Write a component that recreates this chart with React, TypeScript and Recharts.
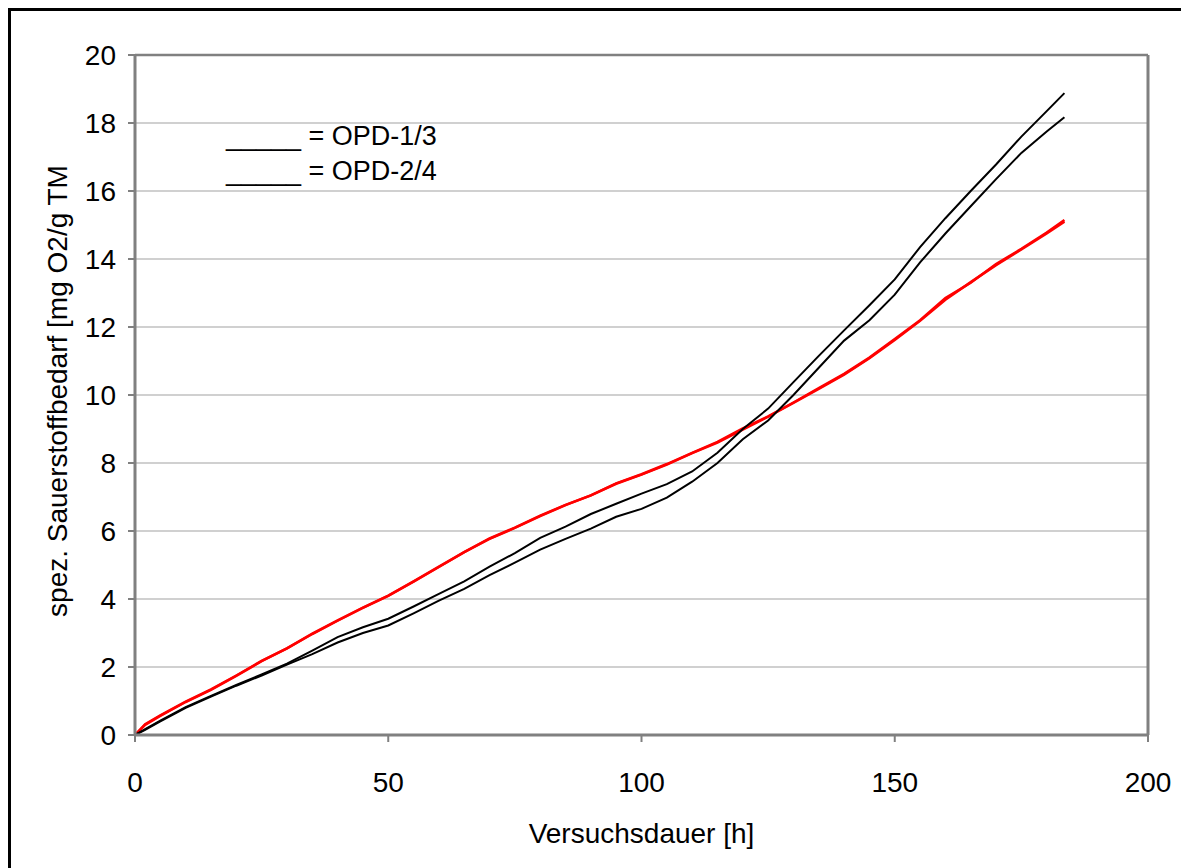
import React from "react";
import { CartesianGrid, Label, Line, LineChart, ReferenceLine, XAxis, YAxis } from "recharts";

const hours = [0, 2, 5, 10, 15, 20, 25, 30, 35, 40, 45, 50, 55, 60, 65, 70, 75, 80, 85, 90, 95, 100, 105, 110, 115, 120, 125, 130, 135, 140, 145, 150, 155, 160, 165, 170, 175, 180, 183.5];

// OPD-1/3 (black)
const opd1 = [0, 0.17, 0.42, 0.82, 1.15, 1.47, 1.78, 2.1, 2.48, 2.88, 3.17, 3.42, 3.78, 4.15, 4.52, 4.95, 5.35, 5.8, 6.13, 6.5, 6.8, 7.1, 7.38, 7.75, 8.3, 9.0, 9.6, 10.38, 11.15, 11.9, 12.64, 13.4, 14.35, 15.2, 16.0, 16.78, 17.6, 18.35, 18.88];
const opd3 = [0, 0.15, 0.4, 0.8, 1.13, 1.45, 1.75, 2.07, 2.38, 2.72, 3.0, 3.22, 3.58, 3.95, 4.3, 4.7, 5.07, 5.45, 5.77, 6.07, 6.42, 6.65, 6.98, 7.45, 8.0, 8.7, 9.25, 10.0, 10.8, 11.6, 12.2, 12.95, 13.9, 14.75, 15.55, 16.35, 17.12, 17.75, 18.17];

// OPD-2/4 (red)
const opd2 = [0, 0.32, 0.58, 0.98, 1.34, 1.75, 2.18, 2.55, 2.98, 3.37, 3.75, 4.1, 4.52, 4.95, 5.38, 5.78, 6.1, 6.45, 6.77, 7.05, 7.4, 7.67, 7.97, 8.3, 8.62, 9.02, 9.37, 9.78, 10.2, 10.62, 11.1, 11.65, 12.2, 12.85, 13.3, 13.85, 14.3, 14.78, 15.15];
const opd4 = [0, 0.3, 0.56, 0.97, 1.33, 1.74, 2.17, 2.55, 2.97, 3.36, 3.74, 4.09, 4.51, 4.94, 5.38, 5.77, 6.09, 6.44, 6.76, 7.05, 7.39, 7.66, 7.95, 8.29, 8.6, 8.98, 9.36, 9.77, 10.18, 10.6, 11.08, 11.62, 12.18, 12.8, 13.32, 13.82, 14.28, 14.75, 15.1];

const xTicks = [0, 50, 100, 150, 200];
const yTicks = [0, 2, 4, 6, 8, 10, 12, 14, 16, 18, 20];

const data = hours.map((h, i) => ({ h, a: opd1[i], b: opd3[i], c: opd2[i], d: opd4[i] }));

const font = "'Liberation Sans', Arial, sans-serif";
const tickStyle = { fontSize: 28, fill: "#000", fontFamily: font };

export default function App() {
  return (
    <div style={{ position: "relative", width: 1181, height: 860, fontFamily: font }}>
      <div
        style={{
          position: "absolute",
          left: 0,
          top: 0,
          width: 1181,
          height: 860,
          boxSizing: "border-box",
          borderTop: "3px solid #000",
          borderLeft: "3px solid #000",
        }}
      />
      <div style={{ position: "absolute", left: 0, top: 0 }}>
        <LineChart width={1181} height={860} data={data} margin={{ top: 47, right: 41, left: 27, bottom: 33 }}>
          <CartesianGrid vertical={false} stroke="#c0c0c0" strokeWidth={1.5} />
          <XAxis
            dataKey="h"
            type="number"
            domain={[0, 200]}
            ticks={xTicks}
            height={100}
            axisLine={{ stroke: "#808080", strokeWidth: 3 }}
            tickLine={{ stroke: "#808080", strokeWidth: 2 }}
            tickSize={7}
            tickMargin={30}
            tick={tickStyle}
          >
            <Label value="Versuchsdauer [h]" position="center" dy={48} style={{ fontSize: 28, fill: "#000", fontFamily: font }} />
          </XAxis>
          <YAxis
            type="number"
            domain={[0, 20]}
            ticks={yTicks}
            width={100}
            axisLine={{ stroke: "#808080", strokeWidth: 3 }}
            tickLine={{ stroke: "#808080", strokeWidth: 2 }}
            tickSize={7}
            tickMargin={12}
            tick={tickStyle}
          >
            <Label value="spez. Sauerstoffbedarf [mg O2/g TM" angle={-90} position="center" dx={-28} dy={-4} style={{ fontSize: 28, fill: "#000", fontFamily: font, textAnchor: "middle" }} />
          </YAxis>
          <ReferenceLine y={20} stroke="#808080" strokeWidth={2.5} />
          <ReferenceLine x={200} stroke="#808080" strokeWidth={3} />
          <Line type="linear" dataKey="c" stroke="#ff0000" strokeWidth={2.5} dot={false} isAnimationActive={false} />
          <Line type="linear" dataKey="d" stroke="#ff0000" strokeWidth={2.5} dot={false} isAnimationActive={false} />
          <Line type="linear" dataKey="a" stroke="#000000" strokeWidth={2} dot={false} isAnimationActive={false} />
          <Line type="linear" dataKey="b" stroke="#000000" strokeWidth={2} dot={false} isAnimationActive={false} />
        </LineChart>
      </div>
      <div style={{ position: "absolute", left: 218, top: 115, fontSize: 27, lineHeight: "27px", color: "#000", whiteSpace: "pre" }}>
        _____ = OPD-1/3
      </div>
      <div style={{ position: "absolute", left: 218, top: 150, fontSize: 27, lineHeight: "27px", color: "#000", whiteSpace: "pre" }}>
        _____ = OPD-2/4
      </div>
    </div>
  );
}
